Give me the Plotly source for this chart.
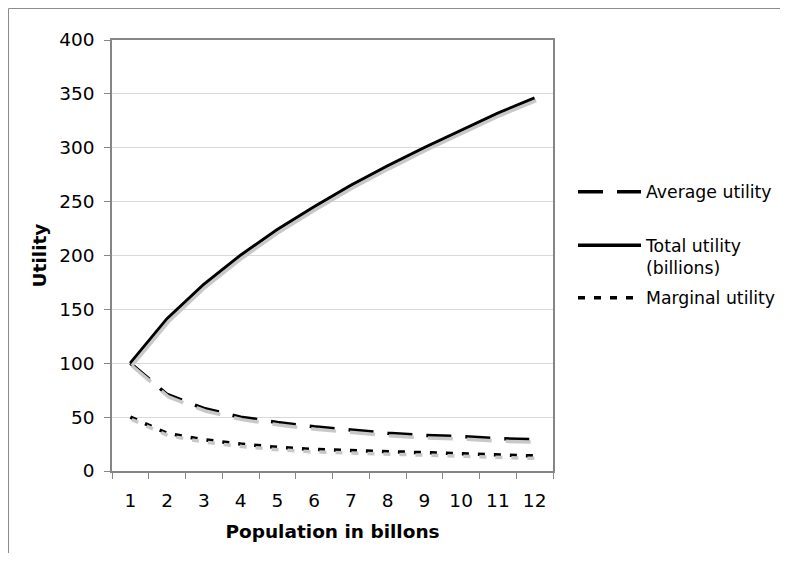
import plotly.graph_objects as go

population = [1, 2, 3, 4, 5, 6, 7, 8, 9, 10, 11, 12]
average_utility = [100, 71, 58, 50, 45, 41, 38, 35, 33, 32, 30, 29]
total_utility = [100, 141, 173, 200, 224, 245, 265, 283, 300, 316, 332, 346]
marginal_utility = [50, 35, 29, 25, 22, 20, 19, 18, 17, 16, 15, 14]

FONT = "DejaVu Sans, Verdana, sans-serif"
FS = 18.5
LFS = 17.3
# page body has an 8px margin; keep the figure inside the 788x561 window
W, H = 772, 545
L, R, T, B = 104, 227, 32, 82
pw, ph = W - L - R, H - T - B


def px_x(x):
    return (x - L) / pw


def px_y(y):
    return 1 - (y - T) / ph


series = [
    ("Average utility", average_utility, "25px,14px", "legend", 184),
    ("Total utility<br>(billions)", total_utility, "solid", "legend2", 248.5),
    ("Marginal utility", marginal_utility, "7px,9px", "legend3", 290),
]

fig = go.Figure()
# shadows
for name, vals, dash, lg, ly in series:
    fig.add_trace(go.Scatter(x=population, y=vals, mode="lines", xaxis="x2", yaxis="y2",
                             line=dict(color="#c8c8c8", width=3.5, dash=dash),
                             showlegend=False, hoverinfo="skip"))
for name, vals, dash, lg, ly in series:
    fig.add_trace(go.Scatter(x=population, y=vals, mode="lines", name=name, legend=lg,
                             line=dict(color="black", width=3.5, dash=dash)))

legend_common = dict(xanchor="left", yanchor="middle", font=dict(size=LFS, family=FONT),
                     itemwidth=63, bgcolor="rgba(0,0,0,0)", valign="top")
xpx = 12.0 / pw
ypx = 400.0 / ph
fig.update_layout(
    width=W, height=H,
    margin=dict(l=L, r=R, t=T, b=B, autoexpand=False),
    paper_bgcolor="white", plot_bgcolor="white",
    font=dict(family=FONT, size=FS, color="black"),
    showlegend=True,
    legend=dict(x=px_x(565), y=px_y(184), **legend_common),
    legend2=dict(x=px_x(565), y=px_y(248.5), **legend_common),
    legend3=dict(x=px_x(565), y=px_y(290), **legend_common),
    xaxis=dict(range=[0.5, 12.5], tickvals=population, ticktext=[str(p) for p in population],
               ticks="", ticklabelstandoff=12, showgrid=False, zeroline=False,
               showline=True, linecolor="#868686", linewidth=1.5, mirror=True,
               minor=dict(tickvals=[i + 0.5 for i in range(0, 13)], ticks="outside",
                          ticklen=6, tickcolor="#868686", showgrid=False),
               title=dict(text="<b>Population in billons</b>", font=dict(size=FS), standoff=15)),
    yaxis=dict(range=[0, 400], dtick=50, ticks="outside", ticklen=6, tickcolor="#868686",
               ticklabelstandoff=6, showgrid=True, gridcolor="#d9d9d9", gridwidth=1,
               zeroline=False, showline=True, linecolor="#868686", linewidth=1.5, mirror=True,
               title=dict(text="<b>Utility</b>", font=dict(size=FS), standoff=8)),
    xaxis2=dict(range=[0.5 - 1.5 * xpx, 12.5 - 1.5 * xpx], overlaying="x", visible=False),
    yaxis2=dict(range=[2.5 * ypx, 400 + 2.5 * ypx], overlaying="y", visible=False),
    shapes=[
        dict(type="line", xref="paper", yref="paper",
             x0=px_x(0.5), x1=px_x(W + 10), y0=px_y(0.5), y1=px_y(0.5),
             line=dict(color="#8c8c8c", width=1)),
        dict(type="line", xref="paper", yref="paper",
             x0=px_x(0.5), x1=px_x(0.5), y0=px_y(0.5), y1=px_y(H + 10),
             line=dict(color="#8c8c8c", width=1)),
    ],
)

fig.write_html("out.html")
